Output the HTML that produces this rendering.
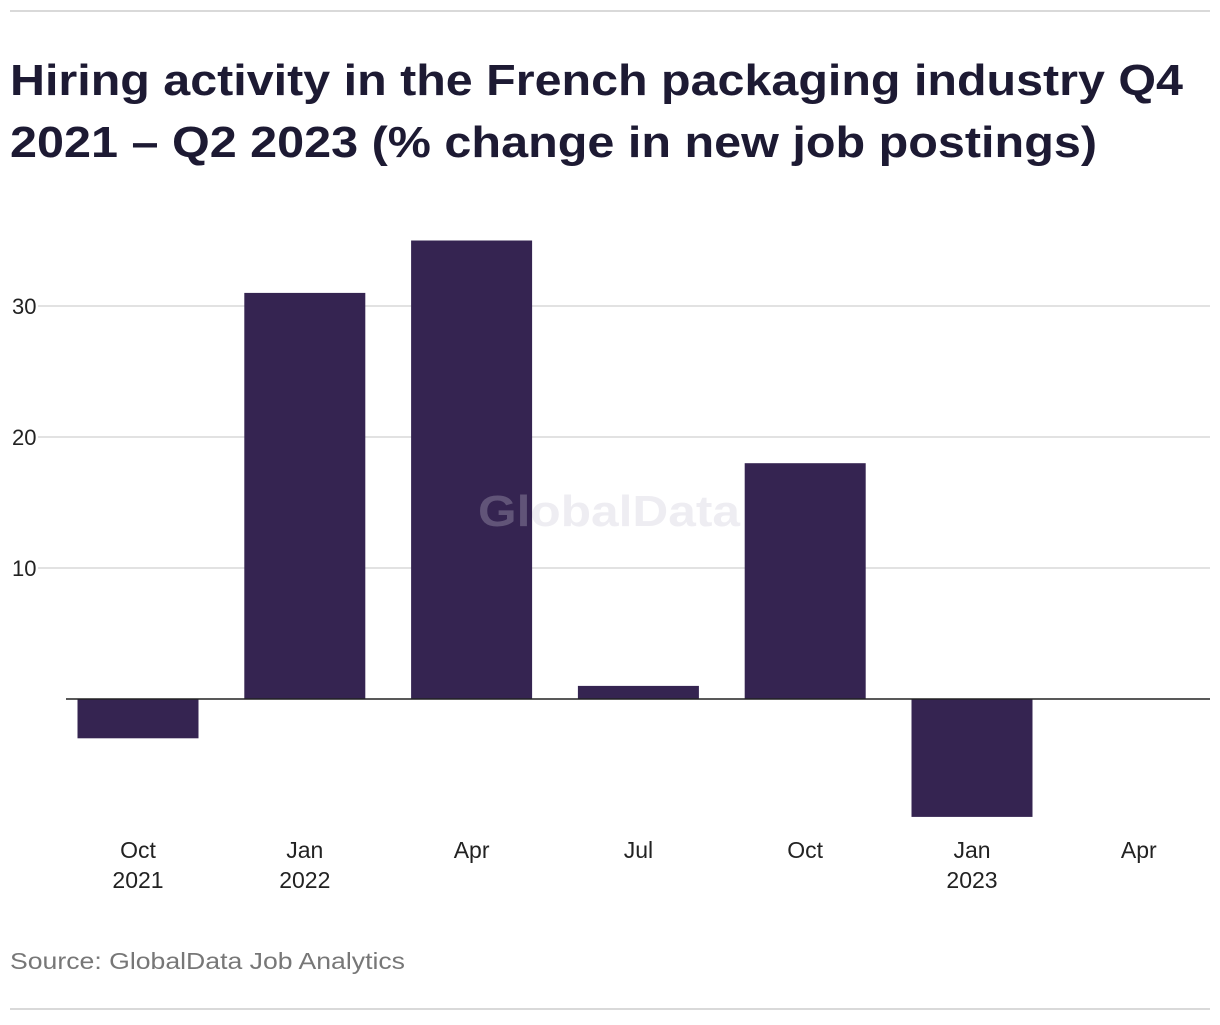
<!DOCTYPE html>
<html><head><meta charset="utf-8"><style>
body{margin:0;background:#fff;width:1220px;height:1020px;overflow:hidden;font-family:"Liberation Sans",sans-serif;}
svg text{font-family:"Liberation Sans",sans-serif;}
</style></head><body>
<svg width="1220" height="1020">
<line x1="10" y1="11" x2="1210" y2="11" stroke="#d9d9d9" stroke-width="2"/>
<text x="10" y="95" font-size="44" font-weight="bold" fill="#1d1a33" textLength="1173" lengthAdjust="spacingAndGlyphs">Hiring activity in the French packaging industry Q4</text>
<text x="10" y="157" font-size="44" font-weight="bold" fill="#1d1a33" textLength="1087" lengthAdjust="spacingAndGlyphs">2021 – Q2 2023 (% change in new job postings)</text>
<g id="grid"></g>
<g id="bars"></g>
<text x="478" y="526" font-size="44" font-weight="bold" fill="#c8c2d4" fill-opacity="0.3" textLength="262" lengthAdjust="spacingAndGlyphs">GlobalData</text>
<line x1="66" y1="699" x2="1210" y2="699" stroke="#222" stroke-width="1.5"/>
<g id="xlabels"></g>
<text x="10" y="969" font-size="23" fill="#777" textLength="395" lengthAdjust="spacingAndGlyphs">Source: GlobalData Job Analytics</text>
<line x1="10" y1="1009" x2="1210" y2="1009" stroke="#d9d9d9" stroke-width="2"/>
</svg>
<script>
const categories=["Oct","Jan","Apr","Jul","Oct","Jan","Apr"];
const years=["2021","2022","","","","2023",""];
const values=[-3,31,35,1,18,-9,0];
const yTicks=[10,20,30];
const NS="http://www.w3.org/2000/svg";
const y=v=>699-v*13.1;
const x=i=>54.6+i*166.8;
const grid=document.getElementById('grid'),bars=document.getElementById('bars'),xl=document.getElementById('xlabels');
yTicks.forEach(t=>{
 const l=document.createElementNS(NS,'line');
 l.setAttribute('x1',38);l.setAttribute('x2',1210);l.setAttribute('y1',y(t));l.setAttribute('y2',y(t));
 l.setAttribute('stroke','#d9d9d9');l.setAttribute('stroke-width','1.5');
 
 
 grid.appendChild(l);
 const tx=document.createElementNS(NS,'text');
 tx.setAttribute('x',12);tx.setAttribute('y',y(t)+8);tx.setAttribute('font-size','22');tx.setAttribute('fill','#222');
 tx.textContent=t;
 
 
 grid.appendChild(tx);
});
values.forEach((v,i)=>{
 const r=document.createElementNS(NS,'rect');
 const cx=x(i)+83.4;
 r.setAttribute('x',cx-60.5);r.setAttribute('width',121);
 r.setAttribute('y',Math.min(y(v),y(0)));r.setAttribute('height',Math.abs(y(v)-y(0)));
 r.setAttribute('fill','#352451');
 
 
 bars.appendChild(r);
 const t=document.createElementNS(NS,'text');
 t.setAttribute('x',cx);t.setAttribute('y',858);t.setAttribute('font-size','23');t.setAttribute('fill','#222');t.setAttribute('text-anchor','middle');
 t.textContent=categories[i];
 
 
 xl.appendChild(t);
 if(years[i]){
  const t2=document.createElementNS(NS,'text');
  t2.setAttribute('x',cx);t2.setAttribute('y',888);t2.setAttribute('font-size','23');t2.setAttribute('fill','#222');t2.setAttribute('text-anchor','middle');
  t2.textContent=years[i];
  
  
  xl.appendChild(t2);
 }
});
</script>
</body></html>
